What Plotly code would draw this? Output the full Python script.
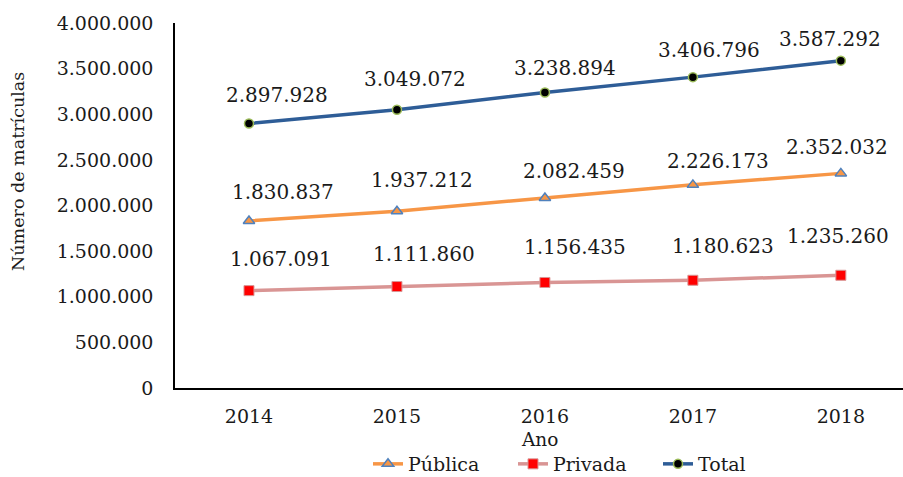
import plotly.graph_objects as go

# Matrículas por ano e rede
anos = ["2014", "2015", "2016", "2017", "2018"]
publica = [1830837, 1937212, 2082459, 2226173, 2352032]
privada = [1067091, 1111860, 1156435, 1180623, 1235260]
total = [2897928, 3049072, 3238894, 3406796, 3587292]

y_ticks = [0, 500000, 1000000, 1500000, 2000000, 2500000, 3000000, 3500000, 4000000]

# label placement relative to each point (pixels: right, up)
pub_label_shift = [(34, 29), (25, 31), (29, 27), (25, 24), (-4, 26)]
priv_label_shift = [(32, 32), (27, 33), (30, 35), (30, 34), (-3, 39)]
tot_label_shift = [(28, 29), (18, 31), (20, 24), (16, 27), (-11, 22)]

FONT = "DejaVu Serif"
INK = "#1a1a1a"

# plot area in pixels
L, T, W, H = 175, 23, 728, 365


def fmt(v):
    return f"{v:,}".replace(",", ".")


fig = go.Figure()

series = [
    ("Pública", publica, dict(color="#F79646", width=3.5),
     dict(symbol="triangle-up", size=10, color="#F79646",
          line=dict(color="#4F81BD", width=1.5)), pub_label_shift),
    ("Privada", privada, dict(color="#D99594", width=3.5),
     dict(symbol="square", size=10, color="#FF0000",
          line=dict(color="#D99594", width=1)), priv_label_shift),
    ("Total", total, dict(color="#2E5D97", width=3.5),
     dict(symbol="circle", size=9, color="#000000",
          line=dict(color="#9BBB59", width=1.5)), tot_label_shift),
]

annotations = []
for name, vals, line, marker, shifts in series:
    fig.add_trace(go.Scatter(
        x=anos, y=vals, name=name, mode="lines+markers",
        line=line, marker=marker, hoverinfo="x+y",
    ))
    for i, (v, (dx, dy)) in enumerate(zip(vals, shifts)):
        annotations.append(dict(
            x=i, y=v, xref="x", yref="y", text=fmt(v), showarrow=False,
            xshift=dx, yshift=dy, font=dict(family=FONT, size=20, color=INK),
        ))

# y-axis title
annotations.append(dict(
    x=(18 - L) / W, y=(T + H - 172) / H, xref="paper", yref="paper",
    text="Número de matrículas", showarrow=False, textangle=-90,
    xanchor="center", yanchor="middle",
    font=dict(family=FONT, size=17.5, color=INK),
))
# x-axis title
annotations.append(dict(
    x=(539 - L) / W, y=-(439 - T - H) / H, xref="paper", yref="paper",
    text="Ano", showarrow=False, xanchor="center", yanchor="middle",
    font=dict(family=FONT, size=18.5, color=INK),
))

fig.update_layout(
    width=903, height=477,
    margin=dict(l=L, r=903 - L - W, t=T, b=477 - T - H, autoexpand=False),
    paper_bgcolor="white", plot_bgcolor="white",
    font=dict(family=FONT, size=18, color=INK),
    showlegend=True,
    legend=dict(orientation="h", x=(368 - L) / W, xanchor="left",
                y=-(464 - T - H) / H, yanchor="middle",
                font=dict(family=FONT, size=19, color=INK),
                entrywidth=100, entrywidthmode="pixels", tracegroupgap=0,
                bgcolor="rgba(0,0,0,0)"),
    annotations=annotations,
)

fig.update_xaxes(
    type="category", range=[-0.5, 4.42], automargin=False,
    showline=True, linecolor="#000000", linewidth=1.5,
    showgrid=False, ticks="", ticklabelstandoff=10,
    tickfont=dict(family=FONT, size=19, color=INK),
)
fig.update_yaxes(
    range=[0, 4000000], tickvals=y_ticks, ticktext=[fmt(v) for v in y_ticks],
    automargin=False,
    showline=True, linecolor="#000000", linewidth=1.5,
    showgrid=False, zeroline=False, ticks="", ticklabelstandoff=16,
    tickfont=dict(family=FONT, size=19, color=INK),
)

fig.write_html("out.html")
